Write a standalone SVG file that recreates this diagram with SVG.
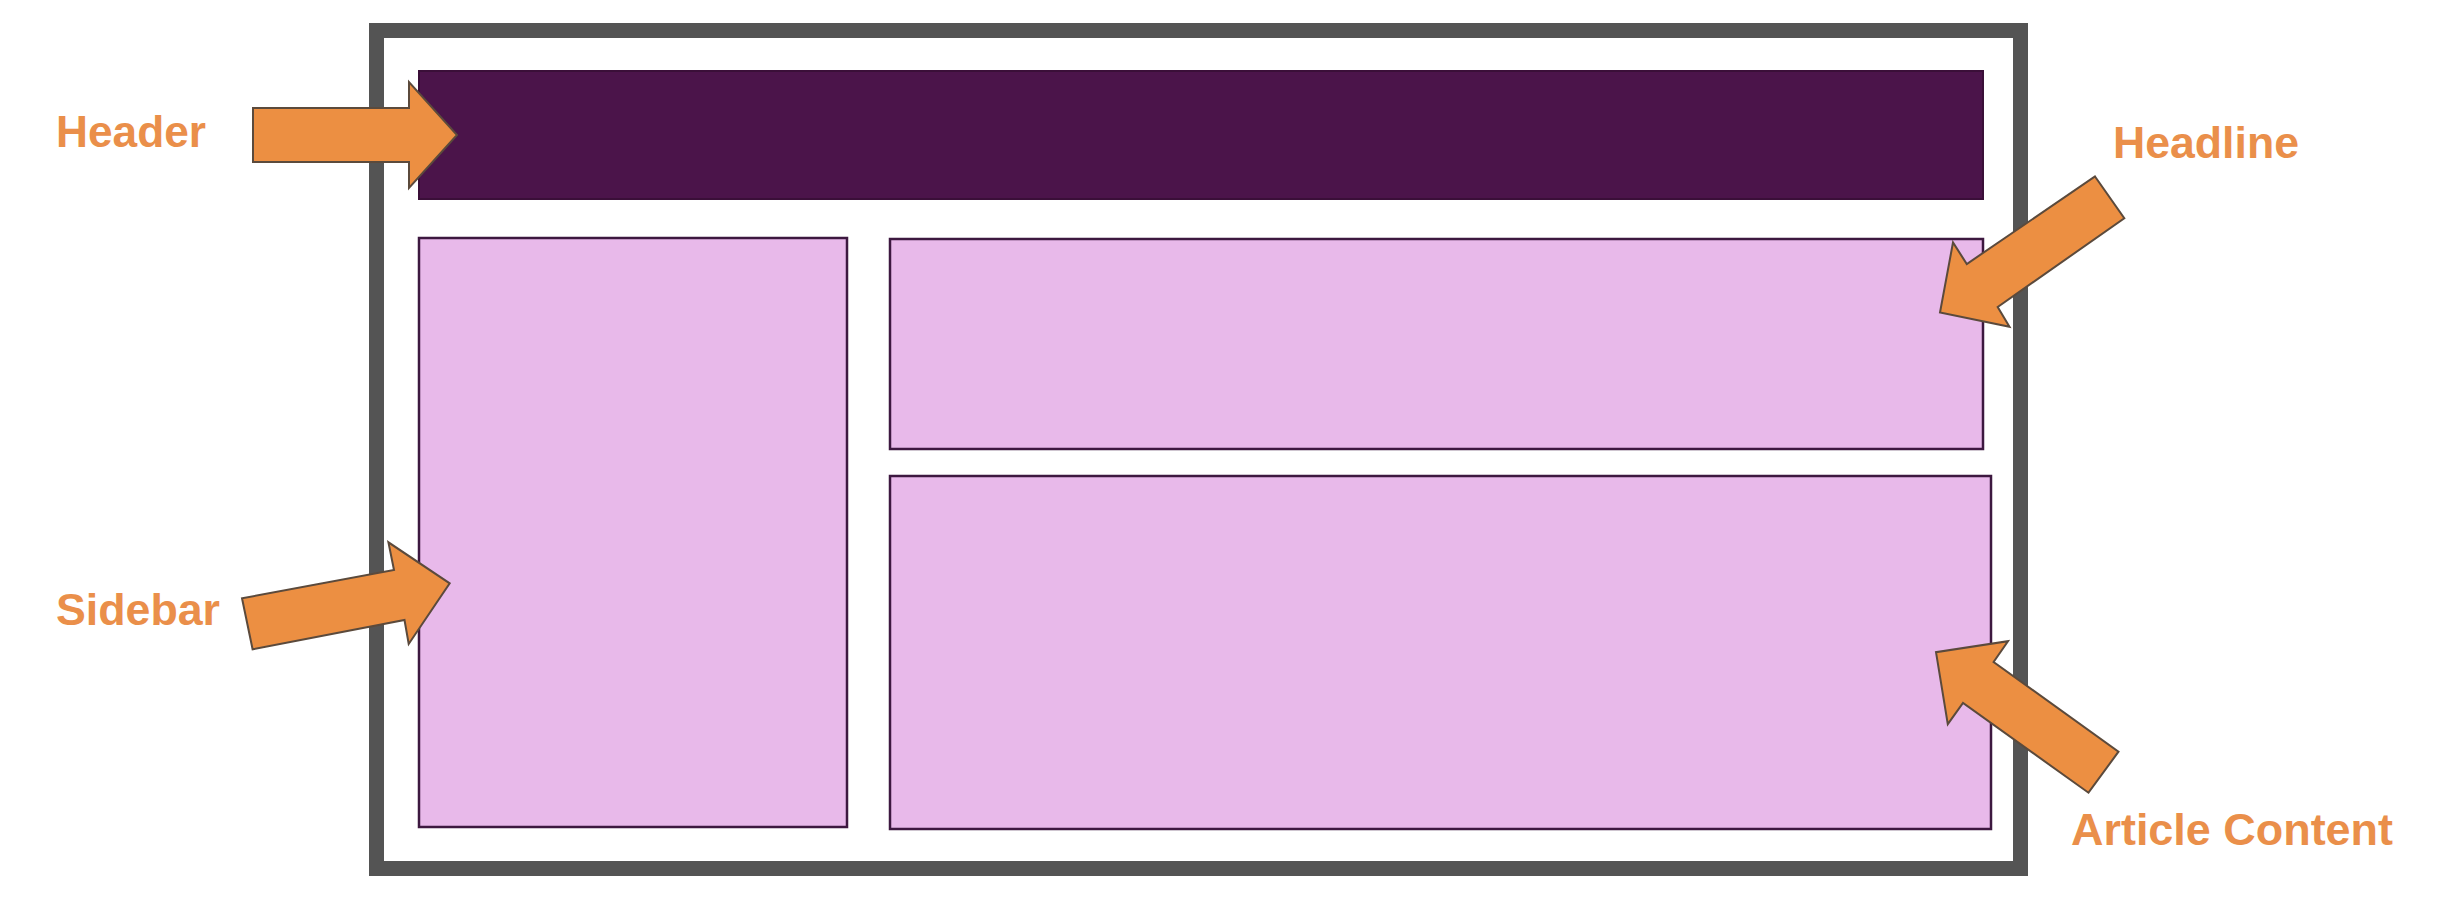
<svg xmlns="http://www.w3.org/2000/svg" width="2452" height="898" viewBox="0 0 2452 898">
  <style>
    .frame { fill: none; stroke: #545454; stroke-width: 15; }
    .dark { fill: #4b144a; stroke: #3a0f38; stroke-width: 2; }
    .pane { fill: #e8b9ea; stroke: #3d1840; stroke-width: 2.5; }
    .arrow { fill: #ec8f42; stroke: #5b4a3c; stroke-width: 2; stroke-linejoin: miter; }
    .label { font-family: "Liberation Sans", Arial, sans-serif; font-weight: bold; font-size: 44px; fill: #ea8f4a; }
  </style>

  <rect width="2452" height="898" fill="#ffffff"/>

  <!-- page outline -->
  <g id="page">
    <rect class="frame" x="376.5" y="30.5" width="1644" height="838"/>
  </g>

  <g id="header">
    <rect class="dark" x="419" y="71" width="1564" height="128"/>
  </g>

  <g id="sidebar">
    <rect class="pane" x="419" y="238" width="428" height="589"/>
  </g>

  <g id="headline">
    <rect class="pane" x="890" y="239" width="1093" height="210"/>
  </g>

  <g id="article-content">
    <rect class="pane" x="890" y="476" width="1101" height="353"/>
  </g>

  <!-- pointer arrows -->
  <g id="connectors">
    <polygon class="arrow" points="253,108 409,108 409,82 457,135 409,188 409,162 253,162"/>
    <polygon class="arrow" points="252.6,649.3 242,598.3 394,570 388.4,542.3 449.7,583.3 408.7,644 404.5,620"/>
    <polygon class="arrow" points="2095,176.5 2124.3,218.3 1997.7,307 2009.5,326.7 1940,312.5 1953,242.5 1966.8,264"/>
    <polygon class="arrow" points="2008,641.2 1993.6,662 2118.5,751.7 2088.5,792.7 1963,703 1947.8,724.2 1936,652.2"/>
  </g>

  <g id="labels">
    <text class="label" x="56" y="147" textLength="150" lengthAdjust="spacingAndGlyphs">Header</text>
    <text class="label" x="2113" y="158" textLength="186" lengthAdjust="spacingAndGlyphs">Headline</text>
    <text class="label" x="56" y="625" textLength="164" lengthAdjust="spacingAndGlyphs">Sidebar</text>
    <text class="label" x="2071" y="845" textLength="322" lengthAdjust="spacingAndGlyphs">Article Content</text>
  </g>
</svg>
